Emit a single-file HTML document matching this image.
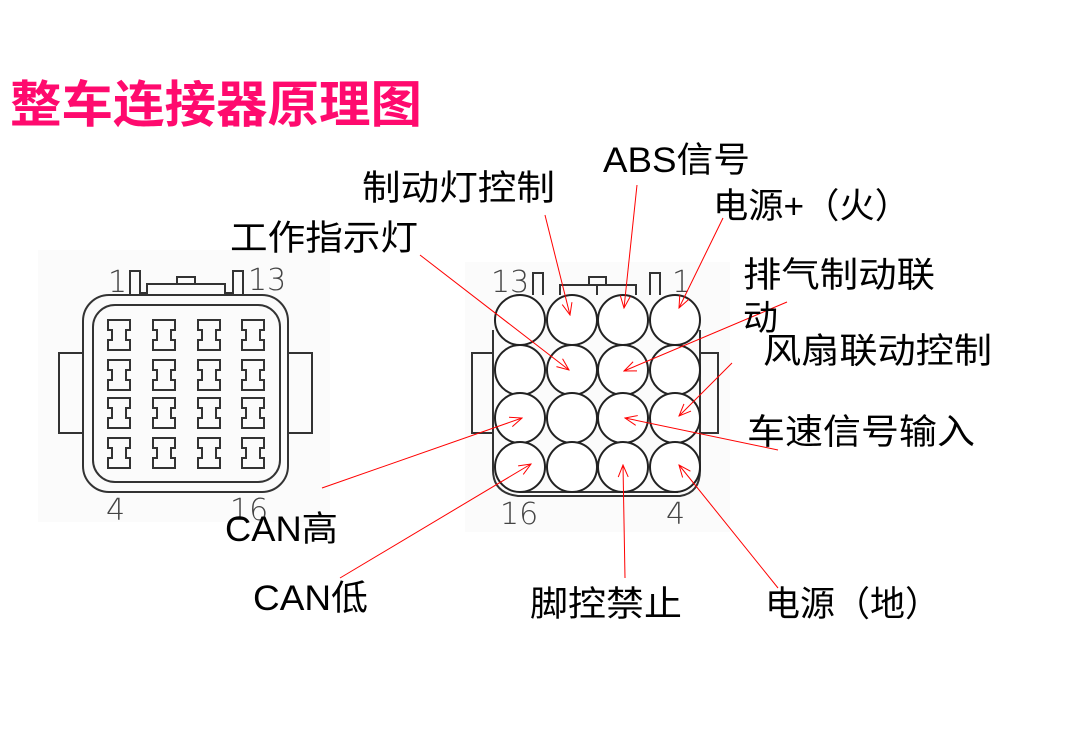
<!DOCTYPE html>
<html><head><meta charset="utf-8"><style>
html,body{margin:0;padding:0;background:#fff;}
svg{display:block;}
.l{font-family:"Liberation Sans","Noto Sans CJK SC",sans-serif;font-size:35px;fill:#000;}
.n{font-family:"DejaVu Sans",sans-serif;font-size:30px;font-weight:200;fill:#444;}
</style></head><body>
<svg width="1065" height="744" viewBox="0 0 1065 744" xmlns="http://www.w3.org/2000/svg">
<defs>
<marker id="a" markerWidth="14" markerHeight="14" refX="13" refY="7" orient="auto" markerUnits="userSpaceOnUse">
<path d="M1,2 L13,7 L1,12" fill="none" stroke="#f00" stroke-width="1"/>
</marker>
</defs>
<rect x="38" y="250" width="292" height="272" fill="#fbfbfb"/>
<rect x="465" y="262" width="265" height="270" fill="#fbfbfb"/>
<text x="10" y="122" font-family="'Noto Sans CJK SC',sans-serif" font-size="50" font-weight="bold" fill="#ff0a6e" textLength="412" lengthAdjust="spacingAndGlyphs">整车连接器原理图</text>

<g fill="none" stroke="#333" stroke-width="2">
<rect x="59" y="353" width="24" height="80"/>
<rect x="288" y="353" width="24" height="80"/>
<rect x="83" y="295" width="205" height="197" rx="26"/>
<rect x="93" y="305" width="187" height="177" rx="22"/>
<path d="M130,295 V271 H140 V293 H147 V284 H225 V293 H233 V271 H243 V295"/>
<rect x="177" y="277" width="18" height="7"/>
</g>
<g fill="none" stroke="#333" stroke-width="2">
<path id="p" d="M0,0 H22 V10 H18 V20 H22 V30 H0 V20 H4 V10 H0 Z" transform="translate(108,320)"/>
<use href="#p" x="45"/><use href="#p" x="90"/><use href="#p" x="134"/>
<use href="#p" y="40"/><use href="#p" x="45" y="40"/><use href="#p" x="90" y="40"/><use href="#p" x="134" y="40"/>
<use href="#p" y="78"/><use href="#p" x="45" y="78"/><use href="#p" x="90" y="78"/><use href="#p" x="134" y="78"/>
<use href="#p" y="118"/><use href="#p" x="45" y="118"/><use href="#p" x="90" y="118"/><use href="#p" x="134" y="118"/>
</g>
<text class="n" x="108" y="292">1</text>
<text class="n" x="248" y="290" fill="#888">13</text>
<text class="n" x="106" y="520">4</text>
<text class="n" x="230" y="520">16</text>

<g fill="none" stroke="#333" stroke-width="2">
<rect x="472" y="353" width="21" height="80"/>
<rect x="700" y="353" width="18" height="80"/>
<path d="M493,330 V470 Q493,493 518,496 H680 Q700,493 700,470 V330"/>
<path d="M520,492 H678"/>
<path d="M533,295 V273 H543 V295 M650,295 V273 H660 V295"/>
<path d="M560,295 V285 H636 V295 M597,285 V295"/>
<rect x="589" y="277" width="17" height="8"/>
</g>
<g fill="#fff" stroke="#222" stroke-width="2">
<circle cx="520" cy="320" r="25"/><circle cx="572" cy="320" r="25"/><circle cx="623" cy="320" r="25"/><circle cx="675" cy="320" r="25"/>
<circle cx="520" cy="370" r="25"/><circle cx="572" cy="370" r="25"/><circle cx="623" cy="370" r="25"/><circle cx="675" cy="370" r="25"/>
<circle cx="520" cy="418" r="25"/><circle cx="572" cy="418" r="25"/><circle cx="623" cy="418" r="25"/><circle cx="675" cy="418" r="25"/>
<circle cx="520" cy="467" r="25"/><circle cx="572" cy="467" r="25"/><circle cx="623" cy="467" r="25"/><circle cx="675" cy="467" r="25"/>
</g>
<text class="n" x="491" y="292">13</text>
<text class="n" x="672" y="292">1</text>
<text class="n" x="500" y="524">16</text>
<text class="n" x="666" y="524">4</text>

<g stroke="#f00" stroke-width="1" marker-end="url(#a)">
<line x1="545" y1="215" x2="570" y2="315"/>
<line x1="637" y1="185" x2="624" y2="308"/>
<line x1="723" y1="218" x2="679" y2="308"/>
<line x1="420" y1="255" x2="569" y2="370"/>
<line x1="787" y1="302" x2="624" y2="371"/>
<line x1="732" y1="363" x2="679" y2="416"/>
<line x1="778" y1="450" x2="625" y2="418"/>
<line x1="322" y1="488" x2="522" y2="418"/>
<line x1="340" y1="578" x2="531" y2="464"/>
<line x1="625" y1="578" x2="623" y2="465"/>
<line x1="778" y1="588" x2="679" y2="465"/>
</g>

<text class="l" x="362" y="200" textLength="193" lengthAdjust="spacingAndGlyphs">制动灯控制</text>
<text class="l" x="603" y="172" textLength="147" lengthAdjust="spacingAndGlyphs">ABS信号</text>
<text class="l" x="713" y="218" textLength="197" lengthAdjust="spacingAndGlyphs">电源+（火）</text>
<text class="l" x="230" y="250" textLength="188" lengthAdjust="spacingAndGlyphs">工作指示灯</text>
<text class="l" x="743" y="287" textLength="192" lengthAdjust="spacingAndGlyphs">排气制动联</text>
<text class="l" x="743" y="330">动</text>
<text class="l" x="763" y="363" textLength="229" lengthAdjust="spacingAndGlyphs">风扇联动控制</text>
<text class="l" x="747" y="444" textLength="228" lengthAdjust="spacingAndGlyphs">车速信号输入</text>
<text class="l" x="225" y="541" textLength="113" lengthAdjust="spacingAndGlyphs">CAN高</text>
<text class="l" x="253" y="610" textLength="115" lengthAdjust="spacingAndGlyphs">CAN低</text>
<text class="l" x="530" y="616" textLength="152" lengthAdjust="spacingAndGlyphs">脚控禁止</text>
<text class="l" x="765" y="616" textLength="175" lengthAdjust="spacingAndGlyphs">电源（地）</text>
</svg>
</body></html>
